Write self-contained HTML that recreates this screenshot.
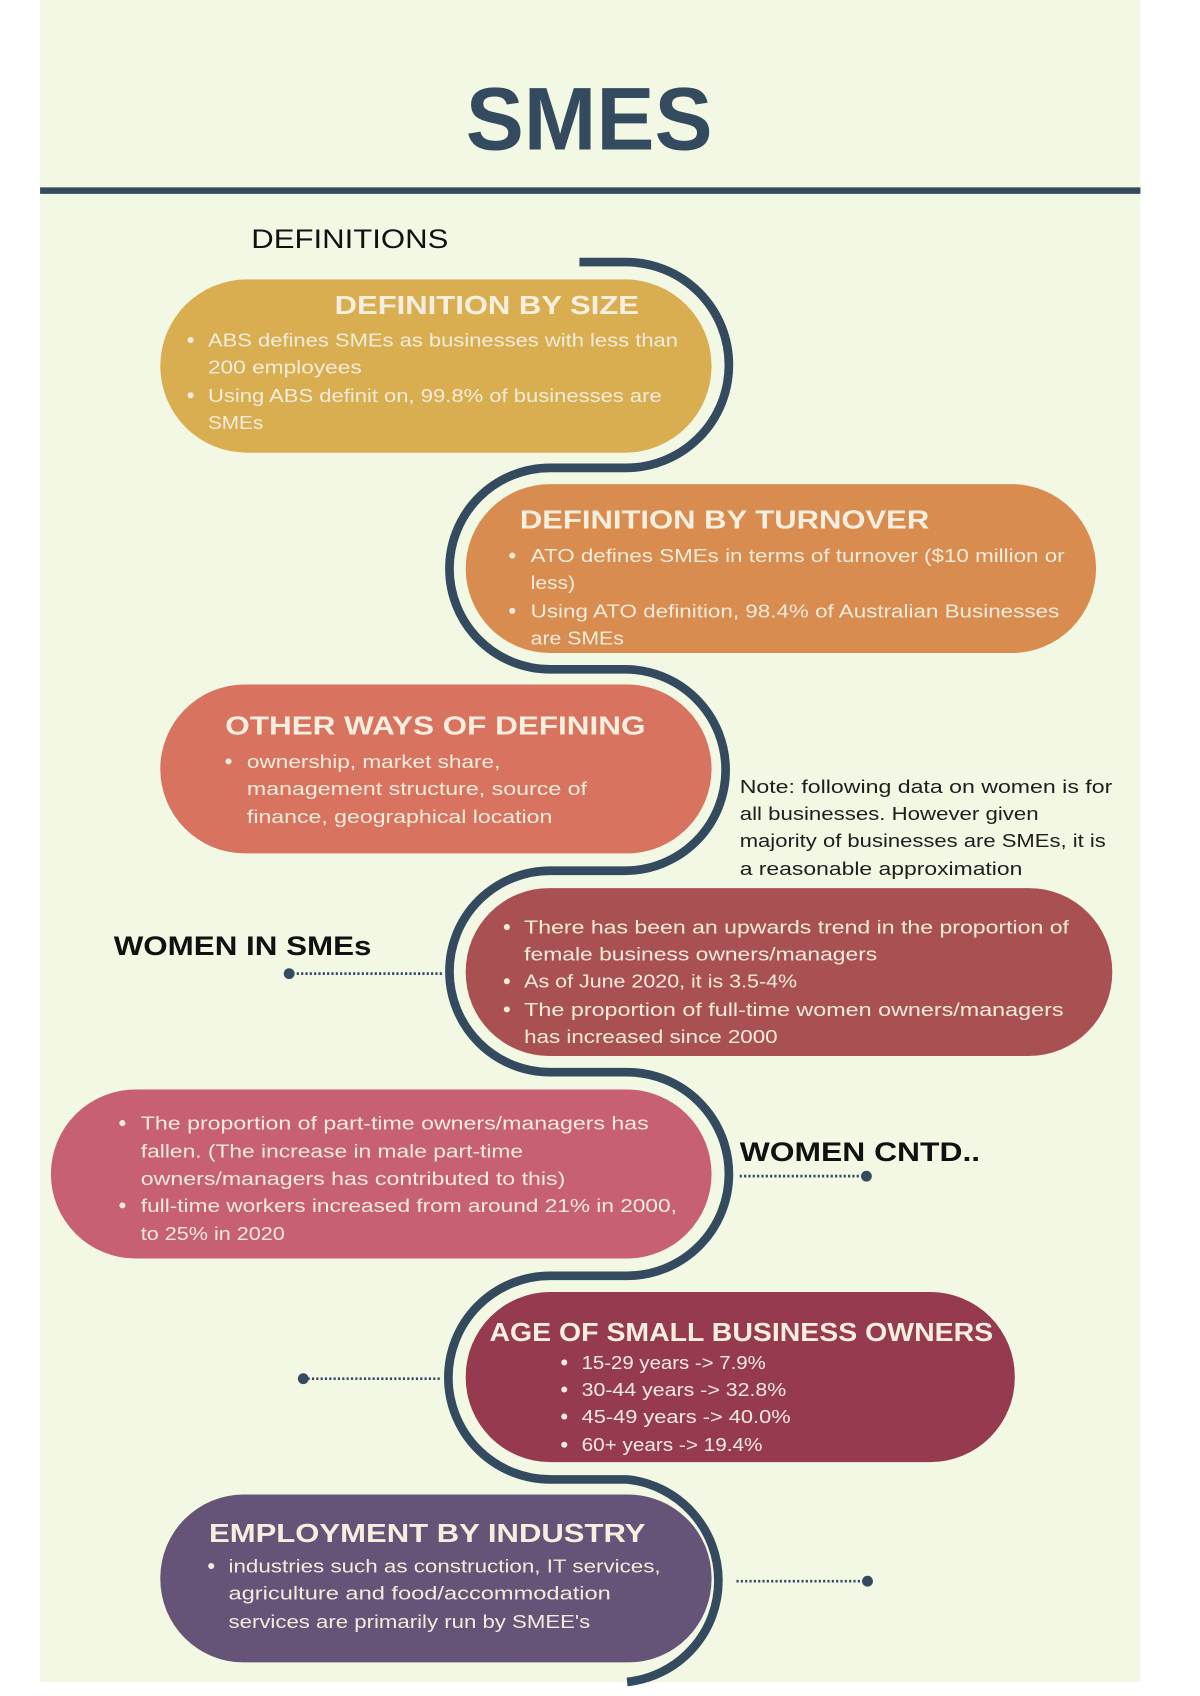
<!DOCTYPE html>
<html><head><meta charset="utf-8"><style>
html,body{margin:0;padding:0;background:#fff;}
svg{display:block;}
text{font-family:"Liberation Sans",sans-serif;}
.t{fill:#f6efdf;font-weight:bold;font-size:24px;}
.b{fill:#f3ecdc;font-size:17px;}
.n{fill:#1e1e1e;font-size:17px;}
</style></head><body>
<svg width="1200" height="1696" viewBox="0 0 1108 1566" preserveAspectRatio="none" xmlns="http://www.w3.org/2000/svg">
<rect x="37" y="0" width="1016" height="1553" fill="#f2f8e3"/>
<text x="544" y="138" text-anchor="middle" font-size="82" font-weight="bold" fill="#344a5e" textLength="228" lengthAdjust="spacingAndGlyphs">SMES</text>
<rect x="37" y="173" width="1016" height="6" fill="#344a5e"/>
<text x="232" y="229" font-size="25" fill="#111" textLength="182" lengthAdjust="spacingAndGlyphs">DEFINITIONS</text>

<path d="M535,242 L578,242 A95,95 0 0 1 578,432 L508,432 A93,93 0 0 0 508,618 L577,618 A93,93 0 0 1 577,804 L508,804 A93,93 0 0 0 508,990 L579,990 A94,94 0 0 1 579,1178 L508,1178 A94,94 0 0 0 508,1366 L579,1366 A94,94 0 0 1 579,1553" fill="none" stroke="#344a5e" stroke-width="8"/>

<rect x="148" y="258" width="509" height="160" rx="80" fill="#d9ae50"/>
<text class="t" x="309" y="290" textLength="281" lengthAdjust="spacingAndGlyphs">DEFINITION BY SIZE</text>
<circle cx="176" cy="314" r="2.8" fill="#f3ecdc"/><circle cx="176" cy="365" r="2.8" fill="#f3ecdc"/>
<text class="b" x="192" y="320" textLength="434" lengthAdjust="spacingAndGlyphs">ABS defines SMEs as businesses with less than</text>
<text class="b" x="192" y="345" textLength="142" lengthAdjust="spacingAndGlyphs">200 employees</text>
<text class="b" x="192" y="371" textLength="419" lengthAdjust="spacingAndGlyphs">Using ABS definit on, 99.8% of businesses are</text>
<text class="b" x="192" y="396" textLength="51" lengthAdjust="spacingAndGlyphs">SMEs</text>

<rect x="430" y="447" width="582" height="156" rx="78" fill="#d88c4f"/>
<text class="t" x="480" y="488" textLength="378" lengthAdjust="spacingAndGlyphs">DEFINITION BY TURNOVER</text>
<circle cx="473" cy="513" r="2.8" fill="#f3ecdc"/><circle cx="473" cy="564" r="2.8" fill="#f3ecdc"/>
<text class="b" x="490" y="519" textLength="493" lengthAdjust="spacingAndGlyphs">ATO defines SMEs in terms of turnover ($10 million or</text>
<text class="b" x="490" y="544" textLength="41" lengthAdjust="spacingAndGlyphs">less)</text>
<text class="b" x="490" y="570" textLength="488" lengthAdjust="spacingAndGlyphs">Using ATO definition, 98.4% of Australian Businesses</text>
<text class="b" x="490" y="595" textLength="86" lengthAdjust="spacingAndGlyphs">are SMEs</text>

<rect x="148" y="632" width="509" height="156" rx="78" fill="#d8735f"/>
<text class="t" x="208" y="678" textLength="388" lengthAdjust="spacingAndGlyphs">OTHER WAYS OF DEFINING</text>
<circle cx="211" cy="703" r="2.8" fill="#f3ecdc"/>
<text class="b" x="228" y="709" textLength="234" lengthAdjust="spacingAndGlyphs">ownership, market share,</text>
<text class="b" x="228" y="734" textLength="314" lengthAdjust="spacingAndGlyphs">management structure, source of</text>
<text class="b" x="228" y="760" textLength="282" lengthAdjust="spacingAndGlyphs">finance, geographical location</text>

<text class="n" x="683" y="732" textLength="344" lengthAdjust="spacingAndGlyphs">Note: following data on women is for</text>
<text class="n" x="683" y="757" textLength="276" lengthAdjust="spacingAndGlyphs">all businesses. However given</text>
<text class="n" x="683" y="782" textLength="338" lengthAdjust="spacingAndGlyphs">majority of businesses are SMEs, it is</text>
<text class="n" x="683" y="808" textLength="261" lengthAdjust="spacingAndGlyphs">a reasonable approximation</text>

<rect x="430" y="820" width="597" height="155" rx="77" fill="#a95152"/>
<circle cx="468" cy="856" r="2.8" fill="#f3ecdc"/><circle cx="468" cy="906" r="2.8" fill="#f3ecdc"/><circle cx="468" cy="932" r="2.8" fill="#f3ecdc"/>
<text class="b" x="484" y="862" textLength="503" lengthAdjust="spacingAndGlyphs">There has been an upwards trend in the proportion of</text>
<text class="b" x="484" y="887" textLength="326" lengthAdjust="spacingAndGlyphs">female business owners/managers</text>
<text class="b" x="484" y="912" textLength="252" lengthAdjust="spacingAndGlyphs">As of June 2020, it is 3.5-4%</text>
<text class="b" x="484" y="938" textLength="498" lengthAdjust="spacingAndGlyphs">The proportion of full-time women owners/managers</text>
<text class="b" x="484" y="963" textLength="234" lengthAdjust="spacingAndGlyphs">has increased since 2000</text>

<text x="105" y="882" font-size="25" font-weight="bold" fill="#111" textLength="238" lengthAdjust="spacingAndGlyphs">WOMEN IN SMEs</text>
<line x1="266" y1="899" x2="410" y2="899" stroke="#344a5e" stroke-width="2.5" stroke-dasharray="2,2"/>
<circle cx="267" cy="899" r="5" fill="#344a5e"/>

<rect x="47" y="1006" width="610" height="156" rx="78" fill="#c86073"/>
<circle cx="113" cy="1037" r="2.8" fill="#f3ecdc"/><circle cx="113" cy="1113" r="2.8" fill="#f3ecdc"/>
<text class="b" x="130" y="1043" textLength="469" lengthAdjust="spacingAndGlyphs">The proportion of part-time owners/managers has</text>
<text class="b" x="130" y="1069" textLength="353" lengthAdjust="spacingAndGlyphs">fallen. (The increase in male part-time</text>
<text class="b" x="130" y="1094" textLength="392" lengthAdjust="spacingAndGlyphs">owners/managers has contributed to this)</text>
<text class="b" x="130" y="1119" textLength="495" lengthAdjust="spacingAndGlyphs">full-time workers increased from around 21% in 2000,</text>
<text class="b" x="130" y="1145" textLength="133" lengthAdjust="spacingAndGlyphs">to 25% in 2020</text>

<text x="683" y="1072" font-size="25" font-weight="bold" fill="#111" textLength="222" lengthAdjust="spacingAndGlyphs">WOMEN CNTD..</text>
<line x1="683" y1="1086" x2="800" y2="1086" stroke="#344a5e" stroke-width="2.5" stroke-dasharray="2,2"/>
<circle cx="800" cy="1086" r="5" fill="#344a5e"/>

<rect x="430" y="1193" width="507" height="157" rx="78" fill="#963a4f"/>
<text class="t" x="452" y="1238" textLength="465" lengthAdjust="spacingAndGlyphs">AGE OF SMALL BUSINESS OWNERS</text>
<circle cx="521" cy="1258" r="2.8" fill="#f3ecdc"/><circle cx="521" cy="1283" r="2.8" fill="#f3ecdc"/><circle cx="521" cy="1308" r="2.8" fill="#f3ecdc"/><circle cx="521" cy="1334" r="2.8" fill="#f3ecdc"/>
<text class="b" x="537" y="1264" textLength="170" lengthAdjust="spacingAndGlyphs">15-29 years -&gt; 7.9%</text>
<text class="b" x="537" y="1289" textLength="189" lengthAdjust="spacingAndGlyphs">30-44 years -&gt; 32.8%</text>
<text class="b" x="537" y="1314" textLength="193" lengthAdjust="spacingAndGlyphs">45-49 years -&gt; 40.0%</text>
<text class="b" x="537" y="1340" textLength="167" lengthAdjust="spacingAndGlyphs">60+ years -&gt; 19.4%</text>
<line x1="280" y1="1273" x2="407" y2="1273" stroke="#344a5e" stroke-width="2.5" stroke-dasharray="2,2"/>
<circle cx="280" cy="1273" r="5" fill="#344a5e"/>

<rect x="148" y="1380" width="509" height="155" rx="77" fill="#665478"/>
<text class="t" x="193" y="1424" textLength="403" lengthAdjust="spacingAndGlyphs">EMPLOYMENT BY INDUSTRY</text>
<circle cx="195" cy="1446" r="2.8" fill="#f3ecdc"/>
<text class="b" x="211" y="1452" textLength="399" lengthAdjust="spacingAndGlyphs">industries such as construction, IT services,</text>
<text class="b" x="211" y="1477" textLength="353" lengthAdjust="spacingAndGlyphs">agriculture and food/accommodation</text>
<text class="b" x="211" y="1503" textLength="334" lengthAdjust="spacingAndGlyphs">services are primarily run by SMEE's</text>
<line x1="680" y1="1460" x2="800" y2="1460" stroke="#344a5e" stroke-width="2.5" stroke-dasharray="2,2"/>
<circle cx="801" cy="1460" r="5" fill="#344a5e"/>
</svg>
</body></html>
